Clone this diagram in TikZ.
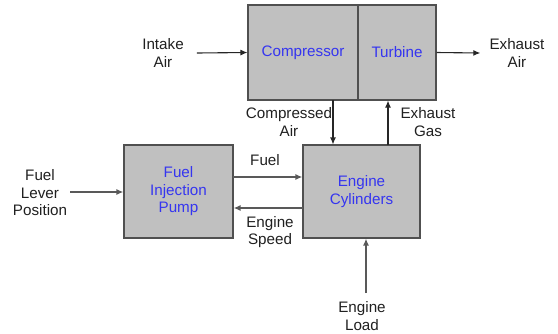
\documentclass[tikz,border=0pt]{standalone}
\usepackage{fontspec}
\setmainfont{Liberation Sans}
\usepackage{xcolor}
\usetikzlibrary{arrows.meta,positioning}
\definecolor{BoxFill}{HTML}{C0C0C0}
\definecolor{BoxBorder}{HTML}{505050}
\definecolor{BoxText}{HTML}{3535F0}
\definecolor{LblText}{HTML}{202020}

\begin{document}
\begin{tikzpicture}[x=1pt,y=-1pt,
  nbox/.style={draw=BoxBorder,fill=BoxFill,line width=1.1pt,
    align=center,text=BoxText,
    font=\fontsize{15.2}{17.5}\selectfont},
  lbl/.style={align=center,text=LblText,inner sep=1pt,
    font=\fontsize{15.2}{17.5}\selectfont},
  arr/.style={-{Latex[length=7pt,width=6pt]},draw=black!85,line width=1.1pt},
  farr/.style={-{Latex[length=7pt,width=6pt]},draw=black!65,line width=2pt}
]
\useasboundingbox (0,0) rectangle (558,333);
\node[nbox,minimum width=110pt,minimum height=95pt] (comp) at (303,52.5) {Compressor};
\node[nbox,minimum width=78pt,minimum height=95pt]  (turb) at (397,52.5) {Turbine};
\node[nbox,minimum width=109pt,minimum height=93pt] (pump) at (178.5,191.5) {Fuel\\Injection\\Pump};
\node[nbox,minimum width=117pt,minimum height=93pt] (cyl)  at (361.5,191.5) {Engine\\Cylinders};
% Outer labels
\node[lbl] (intake) at (163,53)  {Intake\\Air};
\node[lbl] (exhair) at (517,53)  {Exhaust\\Air};
\node[lbl] (lever)  at (40,193)  {Fuel\\Lever\\Position};
\node[lbl] (load)   at (362,316) {Engine\\Load};
% Connector labels
\node[lbl] (cair)  at (289,122)  {Compressed\\Air};
\node[lbl] (egas)  at (428,122)  {Exhaust\\Gas};
\node[lbl] (fuel)  at (265,160)  {Fuel};
\node[lbl] (speed) at (270,232)  {Engine\\Speed};
% Arrow end points
\coordinate (ca) at (333,100);
\coordinate (eg) at (388,145);
\coordinate (fu) at (233,177);
\coordinate (sp) at (303,208);
\coordinate (lv) at (70,192);
\coordinate (ld) at (366,293);
\draw[arr] ([xshift=12pt]intake.east) -- (comp.west);
\draw[arr] (turb.east) -- ([xshift=-8pt]exhair.west);
\draw[arr] (ca) -- (ca |- cyl.north);
\draw[arr] (eg) -- (eg |- turb.south);
\draw[farr] (fu) -- (fu -| cyl.west);
\draw[farr] (sp) -- (sp -| pump.east);
\draw[farr] (lv) -- (lv -| pump.west);
\draw[farr] (ld) -- (ld |- cyl.south);
\end{tikzpicture}
\end{document}
